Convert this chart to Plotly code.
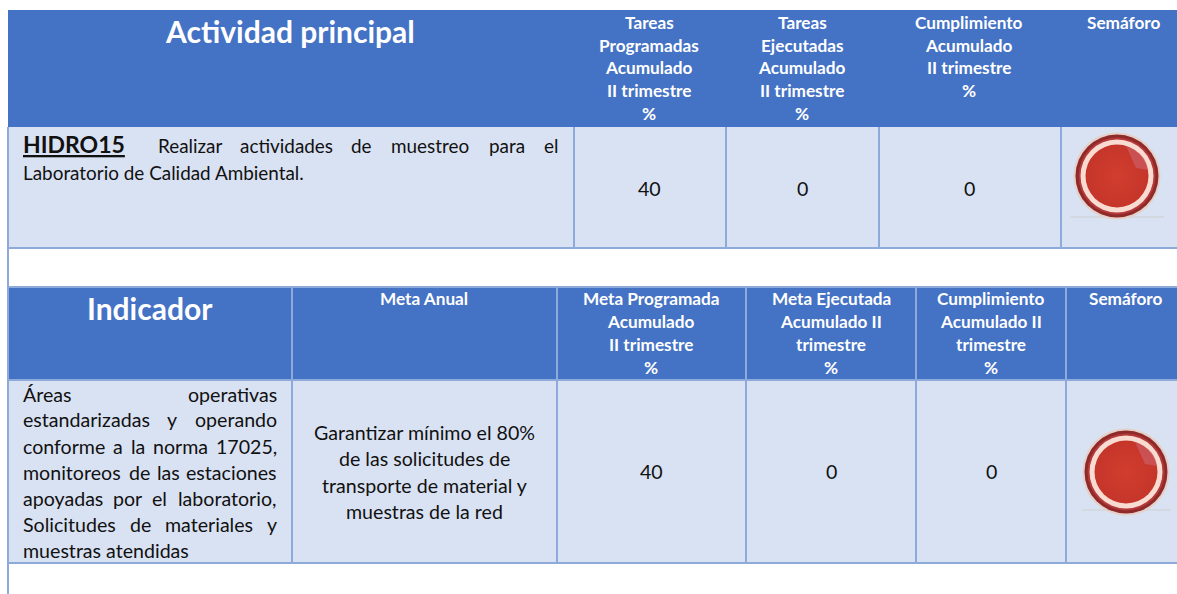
import plotly.graph_objects as go

# ---------- content ----------
t1_title = "Actividad principal"
t1_headers = [
    ["Tareas", "Programadas", "Acumulado", "II trimestre", "%"],
    ["Tareas", "Ejecutadas", "Acumulado", "II trimestre", "%"],
    ["Cumplimiento", "Acumulado", "II trimestre", "%"],
    ["Semáforo"],
]
t1_code = "HIDRO15"
t1_lead = "Realizar actividades de muestreo para el"
t1_tail = "Laboratorio de Calidad Ambiental."
t1_values = [40, 0, 0]

t2_title = "Indicador"
t2_headers = [
    ["Meta Anual"],
    ["Meta Programada", "Acumulado", "II trimestre", "%"],
    ["Meta Ejecutada", "Acumulado II", "trimestre", "%"],
    ["Cumplimiento", "Acumulado II", "trimestre", "%"],
    ["Semáforo"],
]
t2_indicator = [
    "Áreas operativas",
    "estandarizadas y operando",
    "conforme a la norma 17025,",
    "monitoreos de las estaciones",
    "apoyadas por el laboratorio,",
    "Solicitudes de materiales y",
]
t2_indicator_last = "muestras atendidas"
t2_goal = [
    "Garantizar mínimo el 80%",
    "de las solicitudes de",
    "transporte de material y",
    "muestras de la red",
]
t2_values = [40, 0, 0]

# ---------- style / layout ----------
W, H = 1177, 594
FONT = "Lato"
HEAD = "#4472C4"
BODY = "#D9E2F3"
LINE = "#8EAADB"
INK = "#111111"
BODY_SIZE = 19.6
T1_SIZE = 18.9
HEAD_SIZE = 17.2

L = 8
T1_Y = (10, 127, 248)
T1_X = [574, 726, 879, 1061]
T2_Y = (287, 380, 563)
T2_X = [292, 557, 746, 916, 1066]

shapes, ann = [], []


def rect(x0, y0, x1, y1, fill):
    shapes.append(dict(type="rect", x0=x0, x1=x1, y0=y0, y1=y1, fillcolor=fill,
                       line=dict(width=0), layer="below"))


def line(x0, y0, x1, y1, color=LINE, width=2):
    shapes.append(dict(type="line", x0=x0, x1=x1, y0=y0, y1=y1,
                       line=dict(color=color, width=width), layer="below"))


def text(x, y, s, size=BODY_SIZE, color=INK, bold=False, anchor="center"):
    if bold:
        s = f"<b>{s}</b>"
    ann.append(dict(x=x, y=y - 1, text=s, showarrow=False, xanchor=anchor, yanchor="middle",
                    xref="x", yref="y", borderpad=0, borderwidth=0,
                    font=dict(family=FONT, size=size, color=color)))


# approximate Lato advance widths (em/1000), only used to spread justified words
ADV = dict(a=486, b=563, c=462, d=563, e=527, f=320, g=512, h=556, i=240, j=240, k=503, l=240,
           m=823, n=556, o=580, p=556, q=563, r=371, s=431, t=354, u=556, v=500, w=750, x=489,
           y=500, z=440, A=680, S=530, C=660, L=480, G=700, R=600)


def est(word):
    return sum(ADV.get(c, 580 if c.isdigit() else 230 if c in ".," else 540) for c in word) / 1000


def justified(x0, x1, y, s, size=BODY_SIZE):
    words = s.split(" ")
    widths = [est(w) * size for w in words]
    gap = (x1 - x0 - sum(widths)) / (len(words) - 1)
    pos = x0
    for i, (w, wd) in enumerate(zip(words, widths)):
        if i == 0:
            text(x0, y, w, size, anchor="left")
        elif i == len(words) - 1:
            text(x1, y, w, size, anchor="right")
        else:
            text(pos + wd / 2, y, w, size)
        pos += wd + gap


# ---------- table 1 ----------
rect(L, T1_Y[0], W, T1_Y[1], HEAD)
rect(L, T1_Y[1], W, T1_Y[2], BODY)
for x in T1_X:
    line(x, T1_Y[1], x, T1_Y[2])
line(L, T1_Y[2], W, T1_Y[2])

text(290, 32, t1_title, 30, "white", True)
t1_centers = [649, 802, 969, 1124]
head_y1 = [23, 46, 68, 91, 114]
for cx, lines in zip(t1_centers, t1_headers):
    for yy, s in zip(head_y1, lines):
        text(cx, yy, s, HEAD_SIZE, "white", True)

text(23, 145, f"<u>{t1_code}</u>", 23, INK, True, "left")
justified(158, 558, 146, t1_lead, T1_SIZE)
text(23, 173, t1_tail, T1_SIZE, anchor="left")
for cx, v in zip(t1_centers, t1_values):
    text(cx, 189, str(v))

# ---------- table 2 ----------
rect(L, T2_Y[0], W, T2_Y[1], HEAD)
rect(L, T2_Y[1], W, T2_Y[2], BODY)
line(L, T2_Y[0], W, T2_Y[0])
line(L, T2_Y[1], W, T2_Y[1])
line(L, T2_Y[2], W, T2_Y[2])
for x in T2_X:
    line(x, T2_Y[0], x, T2_Y[2])
line(L, T1_Y[1], L, H)

text(150, 309, t2_title, 30, "white", True)
t2_centers = [424, 651, 831, 991, 1126]
head_y2 = [299, 322, 345, 368]
for cx, lines in zip(t2_centers, t2_headers):
    for yy, s in zip(head_y2, lines):
        text(cx, yy, s, HEAD_SIZE, "white", True)

ind_y = [395, 420, 447, 473, 499, 525]
for yy, s in zip(ind_y, t2_indicator):
    justified(23, 277, yy, s)
text(23, 551, t2_indicator_last, anchor="left")

for yy, s in zip([433, 459, 486, 512], t2_goal):
    text(424, yy, s)
for cx, v in zip(t2_centers[1:4], t2_values):
    text(cx, 472, str(v))

# ---------- traffic lights ----------
lights = [(1117, 176, 1070, 1164, 217), (1126, 472, 1082, 1171, 510)]
fig = go.Figure()
for cx, cy, b0, b1, by in lights:
    line(b0, by, b1, by, "#CDCFCF", 1)
    for size, color, grad in [
        (87, "#E6CFC6", None),
        (83, "#8F2A2B", None),
        (77, "#B5393A", None),
        (73, "#F8DCD2", None),
        (63, "#C5352A", "#D23E2E"),
    ]:
        marker = dict(size=size, color=color, line=dict(width=0))
        if grad:
            marker["gradient"] = dict(type="radial", color=grad)
        fig.add_trace(go.Scatter(x=[cx], y=[cy], mode="markers", marker=marker,
                                 hoverinfo="skip", showlegend=False))
    shapes.append(dict(
        type="path",
        path=(f"M {cx+9} {cy-30} L {cx+19} {cy-8} L {cx+31} {cy-6} "
              f"Q {cx+29} {cy-23} {cx+9} {cy-30} Z"),
        fillcolor="rgba(205,95,105,0.65)", line=dict(width=0), layer="above"))

fig.update_layout(
    width=W, height=H, margin=dict(l=0, r=0, t=0, b=0),
    paper_bgcolor="white", plot_bgcolor="white",
    xaxis=dict(range=[0, W], visible=False, fixedrange=True),
    yaxis=dict(range=[H, 0], visible=False, fixedrange=True),
    shapes=shapes, annotations=ann, showlegend=False,
)
fig.write_html("out.html", config=dict(displayModeBar=False),
               post_script="document.body.style.margin='0';document.body.style.overflow='hidden';")
